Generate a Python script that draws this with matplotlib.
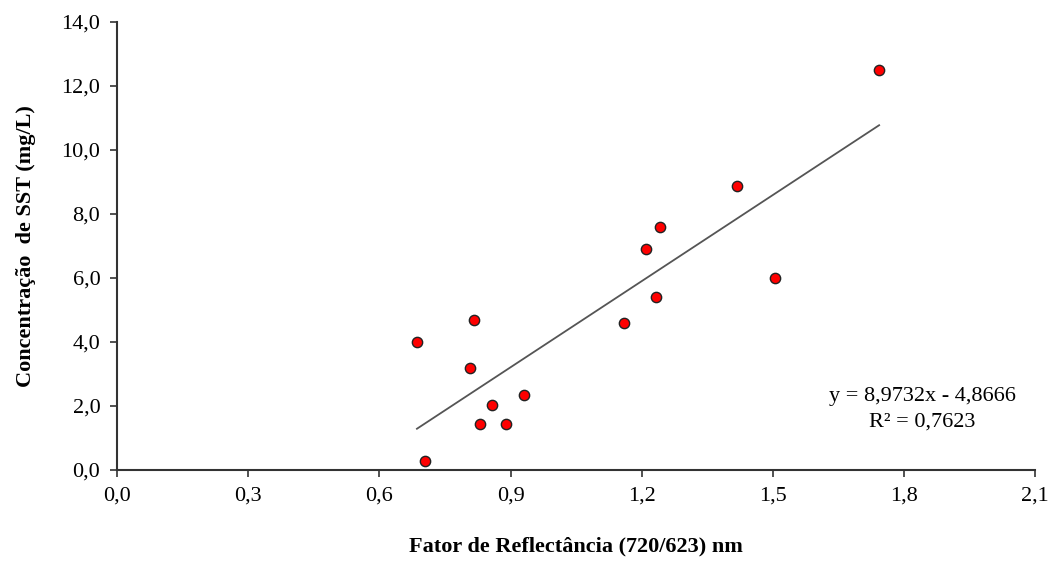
import matplotlib
matplotlib.use("Agg")
import matplotlib.pyplot as plt
import numpy as np

plt.rcParams['font.family'] = ['Liberation Serif', 'DejaVu Serif']

# dados
fator = [0.686, 0.705, 0.808, 0.817, 0.830, 0.858, 0.890, 0.931,
         1.160, 1.210, 1.233, 1.242, 1.418, 1.505, 1.743]
sst = [4.00, 0.28, 3.19, 4.69, 1.44, 2.03, 1.44, 2.34,
       4.59, 6.90, 5.40, 7.60, 8.87, 6.00, 12.50]

coef_a = 8.9732
coef_b = -4.8666
r2 = 0.7623

xticks = [0.0, 0.3, 0.6, 0.9, 1.2, 1.5, 1.8, 2.1]
yticks = [0.0, 2.0, 4.0, 6.0, 8.0, 10.0, 12.0, 14.0]

fig = plt.figure(figsize=(10.51, 5.62), dpi=100)
ax = fig.add_axes([0.1113, 0.1637, 0.8737, 0.7972])

xl = np.array([min(fator), max(fator)])
ax.plot(xl, coef_a * xl + coef_b, color='#555555', lw=1.3, zorder=2)
ax.scatter(fator, sst, s=55, c='#ff0000', edgecolors='#222222',
           linewidths=1.0, zorder=3)

ax.set_xlim(0, 2.1)
ax.set_ylim(0, 14)
ax.set_xticks(xticks)
ax.set_yticks(yticks)
ax.set_xticklabels([('%.1f' % v).replace('.', ',') for v in xticks], fontsize=16)
ax.set_yticklabels([('%.1f' % v).replace('.', ',') for v in yticks], fontsize=16)
ax.tick_params(direction='out', length=5, width=1.2, color='#333333', pad=7)

for s in ['top', 'right']:
    ax.spines[s].set_visible(False)
for s in ['left', 'bottom']:
    ax.spines[s].set_color('#333333')
    ax.spines[s].set_linewidth(1.5)

ax.set_xlabel('Fator de Reflectância (720/623) nm', fontsize=16,
              fontweight='bold', labelpad=22)
ax.set_ylabel('Concentração  de SST (mg/L)', fontsize=16,
              fontweight='bold', labelpad=18)

eq = 'y = %sx - %s' % (str(coef_a).replace('.', ','), str(-coef_b).replace('.', ','))
ax.text(1.842, 2.31, eq, fontsize=16, ha='center', va='center')
ax.text(1.842, 1.50, 'R² = ' + str(r2).replace('.', ','), fontsize=16,
        ha='center', va='center')

plt.savefig('out.png', dpi=100)
